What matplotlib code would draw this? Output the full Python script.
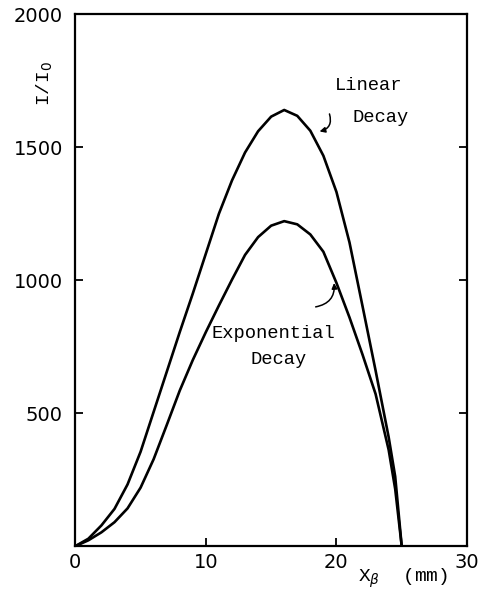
import matplotlib
matplotlib.use("Agg")
import matplotlib.pyplot as plt

# values
x_lin = [0, 1, 2, 3, 4, 5, 6, 7, 8, 9, 10, 11, 12, 13, 14, 15, 16, 17, 18, 19, 20, 21, 22, 23, 24, 24.5, 25]
y_lin = [0, 28, 78, 140, 232, 355, 505, 655, 805, 950, 1100, 1250, 1375, 1480, 1560, 1615, 1640, 1618, 1562,
         1468, 1332, 1142, 902, 660, 410, 262, 0]

x_exp = [0, 1, 2, 3, 4, 5, 6, 7, 8, 9, 10, 11, 12, 13, 14, 15, 16, 17, 18, 19, 20, 21, 22, 23, 24, 24.5, 25]
y_exp = [0, 22, 52, 90, 142, 220, 327, 455, 585, 700, 805, 905, 1002, 1095, 1162, 1205, 1222, 1210, 1172,
         1107, 990, 860, 720, 572, 362, 215, 0]

xticks = [0, 10, 20, 30]
yticks = [500, 1000, 1500, 2000]

fig = plt.figure(figsize=(4.89, 5.93), dpi=100)
ax = fig.add_axes([0.154, 0.079, 0.801, 0.897])

ax.plot(x_lin, y_lin, color="black", lw=1.9, solid_joinstyle="round")
ax.plot(x_exp, y_exp, color="black", lw=1.9, solid_joinstyle="round")

ax.set_xlim(0, 30)
ax.set_ylim(0, 2000)
ax.set_xticks(xticks)
ax.set_yticks(yticks)
ax.tick_params(direction="in", length=6, width=1.3, labelsize=14, right=True)
ax.tick_params(axis="y", pad=9)
ax.tick_params(axis="x", pad=5)
for s in ax.spines.values():
    s.set_linewidth(1.6)

# axis labels, placed like the original
fig.text(0.092, 0.86, "I/I$_0$", rotation=90, fontsize=14, family="Liberation Mono",
         ha="center", va="center")
fig.text(0.825, 0.025, r"X$_\beta$  (mm)", fontsize=14, family="Liberation Mono",
         ha="center", va="center")

mono = dict(family="Liberation Mono", fontsize=13.5, va="center")
ax.text(19.9, 1733, "Linear", **mono)
ax.text(21.2, 1613, "Decay", **mono)
ax.text(10.4, 800, "Exponential", **mono)
ax.text(13.4, 700, "Decay", **mono)

ax.annotate("", xy=(18.5, 1557), xytext=(19.4, 1635),
            arrowprops=dict(arrowstyle="-|>", lw=1.1, color="black",
                            connectionstyle="arc3,rad=-0.6", mutation_scale=8))
ax.annotate("", xy=(19.8, 1000), xytext=(18.2, 898),
            arrowprops=dict(arrowstyle="-|>", lw=1.1, color="black",
                            connectionstyle="arc3,rad=0.5", mutation_scale=8))

fig.savefig("out.png", dpi=100)
